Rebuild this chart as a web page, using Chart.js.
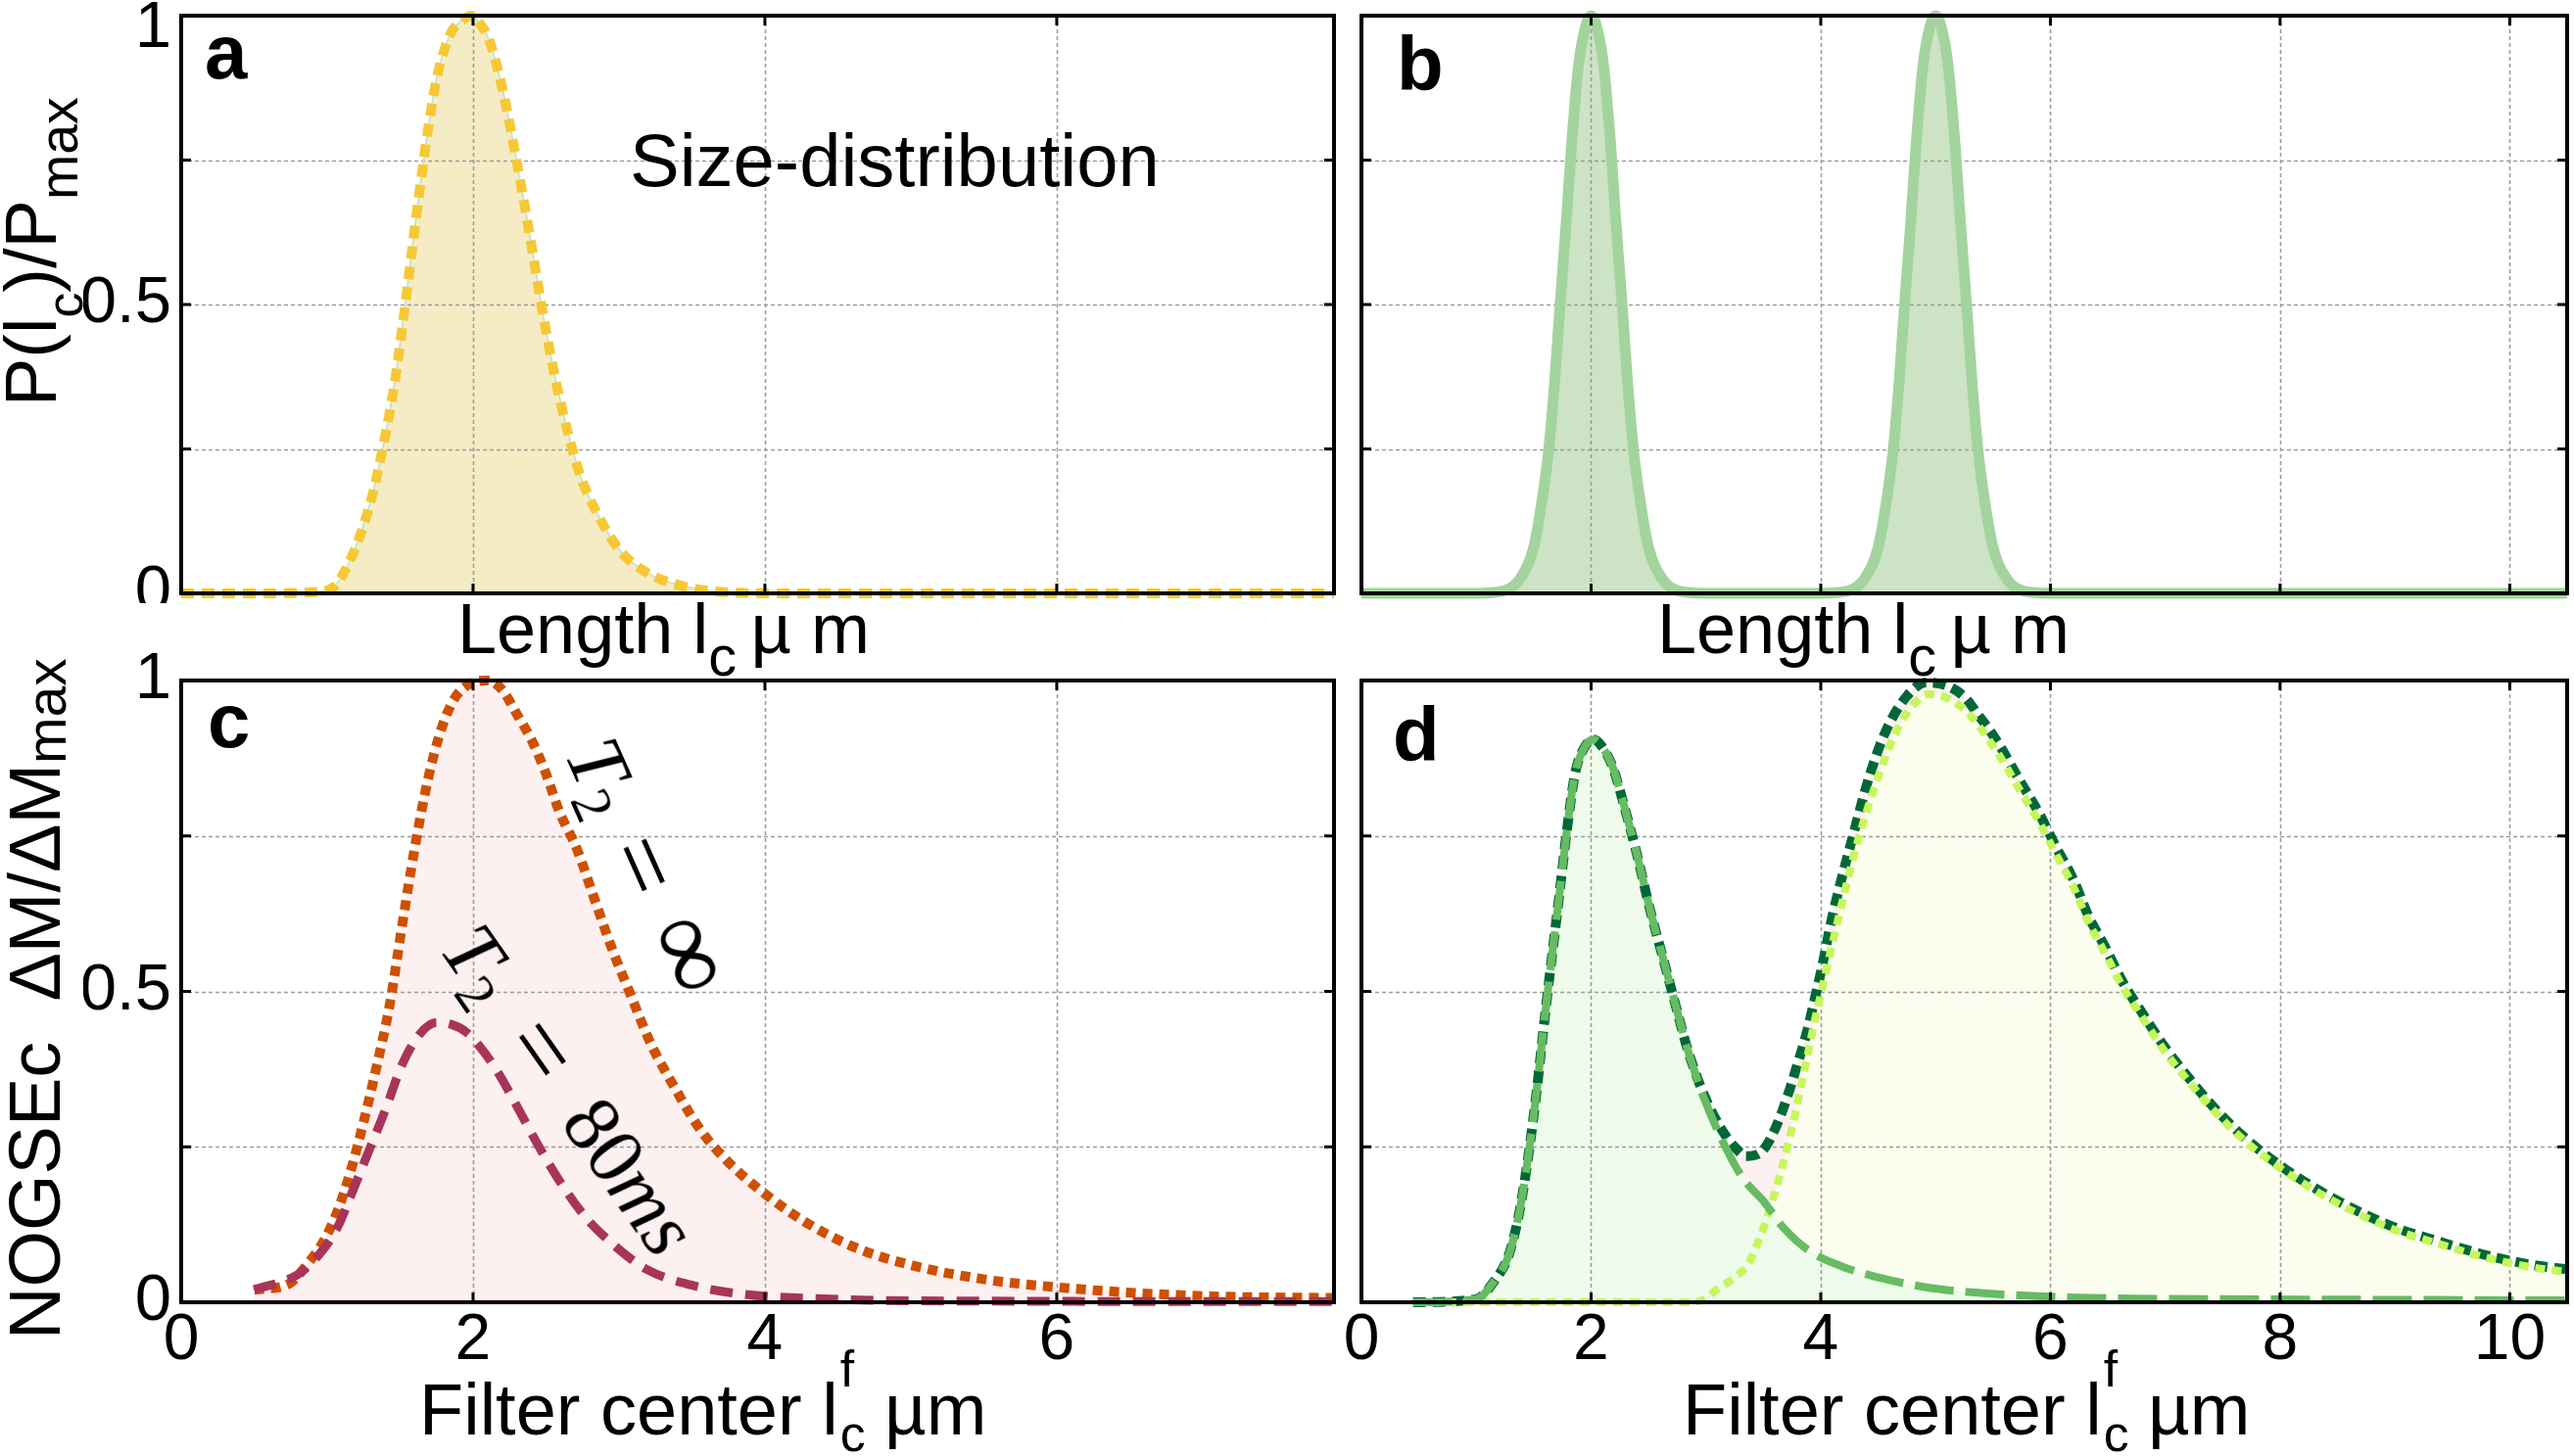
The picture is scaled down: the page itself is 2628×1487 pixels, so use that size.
<!DOCTYPE html>
<html><head><meta charset="utf-8">
<script src="https://cdn.jsdelivr.net/npm/chart.js@4.4.1/dist/chart.umd.min.js"></script>
<style>
html,body{margin:0;padding:0;background:#fff;width:2628px;height:1487px;overflow:hidden;}
.p{position:absolute;}
canvas{display:block;}
.t{position:absolute;white-space:nowrap;font-family:'Liberation Sans',Arial,sans-serif;line-height:1;color:#000;}
.bold{font-weight:bold;font-size:78px;}
.r{transform-origin:0 0;transform:rotate(-90deg);}
.sb{position:relative;top:0.4em;font-size:0.8em;}
.stk{display:inline-block;position:relative;width:0.64em;height:0;}
.stk span{position:absolute;left:0.04em;font-size:0.7em;line-height:1;}
.ann{position:absolute;transform-origin:0 0;font-family:'Liberation Serif','DejaVu Serif',serif;font-size:82px;line-height:1;white-space:nowrap;color:#000;}
.s2{font-size:0.7em;position:relative;top:0.25em;}
.eq{font-size:1.25em;line-height:0;position:relative;top:0.05em;}
.inf{font-size:1.35em;line-height:0;}
</style></head><body>
<div class="p" style="left:85px;top:0;width:1287px;height:616px"><canvas id="ca" width="1287" height="616"></canvas></div>
<div class="p" style="left:1290px;top:0;width:1338px;height:616px"><canvas id="cb" width="1338" height="616"></canvas></div>
<div class="p" style="left:85px;top:655px;width:1287px;height:745px"><canvas id="cc" width="1287" height="745"></canvas></div>
<div class="p" style="left:1290px;top:655px;width:1338px;height:745px"><canvas id="cd" width="1338" height="745"></canvas></div>

<div class="t bold" style="left:209px;top:14px">a</div>
<div class="t bold" style="left:1426px;top:26px">b</div>
<div class="t bold" style="left:212px;top:697px">c</div>
<div class="t bold" style="left:1422px;top:711px">d</div>

<div class="t" style="left:643px;top:126px;font-size:76px">Size-distribution</div>

<div class="t" style="left:467px;top:606px;font-size:72px">Length l<span class="sb">c</span>&#8201;µ m</div>
<div class="t" style="left:1692px;top:606px;font-size:72px">Length l<span class="sb">c</span>&#8201;µ m</div>

<div class="t" style="left:428px;top:1403px;font-size:74px">Filter center l<span class="stk"><span style="top:-1.78em">f</span><span style="top:-0.5em">c</span></span>µm</div>
<div class="t" style="left:1718px;top:1403px;font-size:74px">Filter center l<span class="stk"><span style="top:-1.78em">f</span><span style="top:-0.5em">c</span></span>µm</div>

<div class="t r" style="left:-5px;top:415px;font-size:74px">P(l<span style="position:relative;top:0.52em;font-size:0.7em">c</span>)/P<span style="position:relative;top:0.4em;font-size:0.75em">max</span></div>
<div class="t r" style="left:-1px;top:1368px;font-size:74px">NOGSEc&nbsp;&nbsp;ΔM/ΔM<span style="position:relative;top:0.11em;font-size:0.77em">max</span></div>

<div class="ann" style="left:638px;top:742px;transform:rotate(66deg)"><i>T</i><span class="s2">2</span><span class="eq" style="margin:0 0.33em">=</span><span class="inf">∞</span></div>
<div class="ann" style="left:503px;top:930px;transform:rotate(55deg)"><i>T</i><span class="s2">2</span><span class="eq" style="margin:0 0.41em">=</span>80<i>ms</i></div>

<script>
// ---------- Data ----------
// Panel a: size distribution P(l_c)/P_max
const sizeA_x = [0, 0.5, 0.9, 1.04, 1.13, 1.22, 1.31, 1.38, 1.46, 1.51, 1.57, 1.63, 1.69, 1.75, 1.84, 1.93, 1.99, 2.05, 2.11, 2.20, 2.29, 2.38, 2.47, 2.56, 2.65, 2.74, 2.86, 3.01, 3.19, 3.43, 3.73, 4.2, 5.0, 6.0, 7.0, 7.9];
const sizeA_y = [0, 0, 0.002, 0.01, 0.043, 0.096, 0.17, 0.25, 0.36, 0.45, 0.57, 0.69, 0.80, 0.89, 0.966, 0.993, 1.0, 0.985, 0.958, 0.875, 0.76, 0.633, 0.497, 0.376, 0.278, 0.20, 0.134, 0.073, 0.036, 0.013, 0.002, 0, 0, 0, 0, 0];

// Panel b: bimodal size distribution
const sizeB_x = [0, 1.0, 1.25, 1.39, 1.50, 1.57, 1.63, 1.68, 1.73, 1.78, 1.83, 1.89, 1.95, 2.0, 2.05, 2.11, 2.17, 2.22, 2.27, 2.32, 2.37, 2.43, 2.50, 2.61, 2.75, 3.0, 4.0, 4.25, 4.39, 4.50, 4.57, 4.63, 4.68, 4.73, 4.78, 4.83, 4.89, 4.95, 5.0, 5.05, 5.11, 5.17, 5.22, 5.27, 5.32, 5.37, 5.43, 5.50, 5.61, 5.75, 6.0, 8.0, 10.5];
const sizeB_y = [0, 0, 0.005, 0.028, 0.08, 0.157, 0.247, 0.36, 0.50, 0.633, 0.777, 0.913, 0.98, 1.0, 0.98, 0.913, 0.777, 0.633, 0.50, 0.36, 0.247, 0.157, 0.08, 0.028, 0.005, 0, 0, 0.005, 0.028, 0.08, 0.157, 0.247, 0.36, 0.50, 0.633, 0.777, 0.913, 0.98, 1.0, 0.98, 0.913, 0.777, 0.633, 0.50, 0.36, 0.247, 0.157, 0.08, 0.028, 0.005, 0, 0, 0];

// Panel c: NOGSEc signal, T2 = infinity and T2 = 80 ms
const sigInf_x = [0.5, 0.74, 0.86, 0.98, 1.07, 1.16, 1.25, 1.34, 1.43, 1.51, 1.60, 1.69, 1.78, 1.87, 1.98, 2.1, 2.2, 2.29, 2.41, 2.50, 2.59, 2.71, 2.83, 2.95, 3.07, 3.22, 3.37, 3.55, 3.73, 3.97, 4.27, 4.63, 5.05, 5.53, 6.01, 6.54, 7.14, 7.9];
const sigInf_y = [0.02, 0.03, 0.06, 0.10, 0.146, 0.21, 0.29, 0.38, 0.48, 0.60, 0.73, 0.84, 0.92, 0.97, 0.995, 1.0, 0.985, 0.95, 0.90, 0.85, 0.79, 0.73, 0.65, 0.57, 0.50, 0.415, 0.35, 0.28, 0.23, 0.18, 0.13, 0.087, 0.057, 0.036, 0.024, 0.015, 0.009, 0.007];
const sig80_x = [0.5, 0.80, 0.95, 1.07, 1.16, 1.28, 1.40, 1.51, 1.63, 1.75, 1.85, 1.95, 2.05, 2.17, 2.29, 2.44, 2.59, 2.77, 2.95, 3.19, 3.49, 3.85, 4.45, 5.35, 7.9];
const sig80_y = [0.02, 0.045, 0.078, 0.12, 0.17, 0.24, 0.31, 0.38, 0.43, 0.45, 0.447, 0.435, 0.41, 0.37, 0.32, 0.255, 0.196, 0.137, 0.095, 0.053, 0.028, 0.013, 0.005, 0.002, 0.001];

// Panel d: small population, large population, total
const dSmall_x = [0.45, 1.0, 1.14, 1.29, 1.39, 1.50, 1.61, 1.72, 1.79, 1.86, 1.95, 2.02, 2.09, 2.19, 2.30, 2.40, 2.51, 2.62, 2.73, 2.84, 2.98, 3.13, 3.32, 3.50, 3.67, 3.89, 4.18, 4.52, 4.92, 5.31, 5.74, 6.16, 6.73, 7.44, 9.0, 10.5];
const dSmall_y = [0, 0.005, 0.03, 0.08, 0.16, 0.30, 0.48, 0.65, 0.76, 0.85, 0.895, 0.905, 0.895, 0.86, 0.79, 0.72, 0.634, 0.558, 0.482, 0.407, 0.33, 0.265, 0.20, 0.163, 0.121, 0.084, 0.058, 0.039, 0.024, 0.016, 0.011, 0.008, 0.006, 0.005, 0.004, 0.003];
const dLarge_x = [0.45, 2.9, 3.13, 3.25, 3.37, 3.45, 3.54, 3.61, 3.67, 3.72, 3.78, 3.82, 3.86, 3.90, 3.95, 4.0, 4.15, 4.32, 4.5, 4.65, 4.8, 4.94, 5.1, 5.26, 5.37, 5.56, 5.73, 5.90, 6.05, 6.20, 6.33, 6.48, 6.63, 6.80, 6.99, 7.20, 7.43, 7.69, 7.97, 8.30, 8.64, 8.99, 9.38, 9.79, 10.2, 10.5];
const dLarge_y = [0, 0, 0.025, 0.04, 0.062, 0.095, 0.14, 0.182, 0.222, 0.258, 0.305, 0.34, 0.375, 0.41, 0.455, 0.495, 0.615, 0.74, 0.845, 0.915, 0.96, 0.978, 0.972, 0.952, 0.928, 0.878, 0.825, 0.773, 0.72, 0.668, 0.612, 0.56, 0.507, 0.458, 0.405, 0.356, 0.307, 0.26, 0.22, 0.18, 0.146, 0.117, 0.094, 0.072, 0.056, 0.049];
const dTotal_x = [0.45, 1.0, 1.14, 1.29, 1.39, 1.50, 1.61, 1.72, 1.79, 1.86, 1.95, 2.02, 2.09, 2.19, 2.30, 2.40, 2.51, 2.62, 2.73, 2.84, 2.98, 3.13, 3.25, 3.35, 3.45, 3.52, 3.58, 3.65, 3.70, 3.75, 3.80, 3.85, 3.90, 3.95, 4.0, 4.1, 4.28, 4.43, 4.57, 4.75, 4.92, 5.12, 5.26, 5.37, 5.47, 5.56, 5.73, 5.90, 6.05, 6.20, 6.33, 6.48, 6.63, 6.80, 6.99, 7.20, 7.43, 7.69, 7.97, 8.30, 8.64, 8.99, 9.38, 9.79, 10.2, 10.5];
const dTotal_y = [0, 0.005, 0.03, 0.08, 0.16, 0.30, 0.48, 0.65, 0.76, 0.85, 0.895, 0.905, 0.895, 0.86, 0.79, 0.72, 0.634, 0.558, 0.482, 0.407, 0.335, 0.28, 0.25, 0.235, 0.238, 0.25, 0.27, 0.30, 0.326, 0.354, 0.385, 0.415, 0.45, 0.49, 0.53, 0.62, 0.75, 0.85, 0.92, 0.975, 0.997, 0.99, 0.972, 0.945, 0.92, 0.895, 0.84, 0.787, 0.732, 0.68, 0.622, 0.57, 0.515, 0.465, 0.412, 0.362, 0.312, 0.265, 0.224, 0.184, 0.15, 0.121, 0.098, 0.076, 0.06, 0.053];

// Tick labels
const yTickLabels = ['0', '', '0.5', '', '1'];
const xTickLabelsC = ['0', '2', '4', '6'];
const xTickLabelsD = ['0', '2', '4', '6', '8', '10'];
const xMaxLeft = 7.9, xMaxRight = 10.5;

// ---------- Drawing ----------
const FONT = 'Liberation Sans';
const GRID_COLOR = '#9c9c9c';
const pts = (xs, ys) => xs.map((x, i) => ({x: x, y: ys[i]}));

const frameGrid = {
  id: 'frameGrid',
  beforeDatasetsDraw(chart) {
    const ctx = chart.ctx, a = chart.chartArea, xs = chart.scales.x, ys = chart.scales.y;
    ctx.save();
    ctx.strokeStyle = GRID_COLOR; ctx.lineWidth = 1.6; ctx.setLineDash([4, 3]);
    ctx.beginPath();
    xs.ticks.forEach(t => { const p = Math.round(xs.getPixelForValue(t.value)) + 0.5;
      if (p > a.left + 3 && p < a.right - 3) { ctx.moveTo(p, a.top); ctx.lineTo(p, a.bottom); } });
    ys.ticks.forEach(t => { const p = Math.round(ys.getPixelForValue(t.value)) + 0.5;
      if (p > a.top + 3 && p < a.bottom - 3) { ctx.moveTo(a.left, p); ctx.lineTo(a.right, p); } });
    ctx.stroke();
    ctx.restore();
  },
  afterDatasetsDraw(chart) {
    const ctx = chart.ctx, a = chart.chartArea, xs = chart.scales.x, ys = chart.scales.y;
    ctx.save();
    ctx.setLineDash([]);
    ctx.strokeStyle = '#000';
    ctx.lineWidth = 3; ctx.beginPath();
    const L = 10;
    xs.ticks.forEach(t => { const p = xs.getPixelForValue(t.value);
      if (p > a.left + 3 && p < a.right - 3) { ctx.moveTo(p, a.bottom); ctx.lineTo(p, a.bottom - L); ctx.moveTo(p, a.top); ctx.lineTo(p, a.top + L); } });
    ys.ticks.forEach(t => { const p = ys.getPixelForValue(t.value);
      if (p > a.top + 3 && p < a.bottom - 3) { ctx.moveTo(a.left, p); ctx.lineTo(a.left + L, p); ctx.moveTo(a.right, p); ctx.lineTo(a.right - L, p); } });
    ctx.stroke();
    ctx.lineWidth = 4;
    ctx.strokeRect(a.left, a.top, a.right - a.left, a.bottom - a.top);
    ctx.restore();
  }
};

function build(id, o) {
  return new Chart(document.getElementById(id), {
    type: 'line',
    data: {datasets: o.datasets},
    options: {
      responsive: false, animation: false, devicePixelRatio: 1, events: [],
      layout: {padding: {top: o.padTop, right: o.padRight, left: 0, bottom: 0}},
      elements: {point: {radius: 0, hoverRadius: 0}, line: {cubicInterpolationMode: 'monotone', borderCapStyle: 'butt'}},
      plugins: {legend: {display: false}, tooltip: {enabled: false}, filler: {drawTime: 'beforeDatasetsDraw'}},
      scales: {
        x: {type: 'linear', min: 0, max: o.xMax,
            grid: {display: false, drawTicks: false}, border: {display: false},
            ticks: {display: !!o.xLabels, stepSize: 2, includeBounds: false, padding: 0, color: '#000', maxRotation: 0, autoSkip: false,
                    font: {family: FONT, size: 66}, callback: (v, i) => o.xLabels ? o.xLabels[i] : ''},
            afterFit: s => { s.height = o.xH; s.paddingLeft = 0; s.paddingRight = 0; }},
        y: {type: 'linear', min: 0, max: 1,
            grid: {display: false, drawTicks: false}, border: {display: false},
            ticks: {display: !!o.yLabels, stepSize: 0.25, padding: 10, color: '#000', autoSkip: false,
                    font: c => ({family: FONT, size: 67, lineHeight: (o.dropTop && c.tick && c.tick.value === 1) ? 0.4 : 1.2}),
                    callback: (v, i) => (o.dropTop && v === 1) ? ['', yTickLabels[i]] : yTickLabels[i]},
            afterFit: s => { s.width = 100; s.paddingTop = 0; s.paddingBottom = 0; }}
      }
    },
    plugins: [frameGrid]
  });
}

build('ca', {xMax: xMaxLeft, padTop: 16, padRight: 10, xH: 10, yLabels: true, dropTop: true, xLabels: null, datasets: [
  {data: pts(sizeA_x, sizeA_y), borderColor: '#f7c833', borderWidth: 10, borderDash: [13, 8], fill: false, clip: false},
  {data: pts(sizeA_x, sizeA_y), borderColor: '#c9e3cf', borderWidth: 2, fill: 'origin', backgroundColor: '#f5ecc6'}
]});
build('cb', {xMax: xMaxRight, padTop: 16, padRight: 7, xH: 10, yLabels: false, xLabels: null, datasets: [
  {data: pts(sizeB_x, sizeB_y), borderColor: '#a3d49d', borderWidth: 11, borderJoinStyle: 'round', fill: 'origin', backgroundColor: '#cde3c5', clip: false}
]});
build('cc', {xMax: xMaxLeft, padTop: 40, padRight: 10, xH: 70, yLabels: true, xLabels: xTickLabelsC, datasets: [
  {data: pts(sig80_x, sig80_y), borderColor: '#a8345a', borderWidth: 9, borderDash: [23, 13], fill: false, clip: false},
  {data: pts(sigInf_x, sigInf_y), borderColor: '#cf5000', borderWidth: 10, borderDash: [10, 7], fill: 'origin', backgroundColor: '#fdf0f0', clip: false}
]});
build('cd', {xMax: xMaxRight, padTop: 40, padRight: 7, xH: 70, yLabels: false, xLabels: xTickLabelsD, datasets: [
  {data: pts(dSmall_x, dSmall_y), borderColor: '#66bb63', borderWidth: 8, borderDash: [40, 12], fill: 'origin', backgroundColor: '#eefaea', clip: false},
  {data: pts(dLarge_x, dLarge_y), borderColor: '#c6f65b', borderWidth: 8, borderDash: [10, 7], fill: 'origin', backgroundColor: '#fbfdee', clip: false},
  {data: pts(dTotal_x, dTotal_y), borderColor: '#006837', borderWidth: 10, borderDash: [13, 7], fill: 'origin', backgroundColor: '#fdf0f0', clip: false}
]});
</script>
</body></html>
